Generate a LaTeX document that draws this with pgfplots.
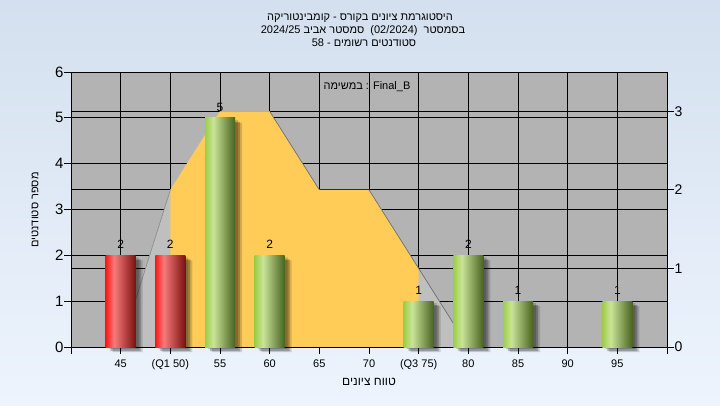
\documentclass[border=0pt]{standalone}
\usepackage{fontspec}
\setmainfont{Liberation Sans}
\newfontfamily\hebfont[Script=Hebrew]{Liberation Sans}
\TeXXeTstate=1
\usepackage{pgfplots}
\pgfplotsset{compat=1.18}
\definecolor{plotgray}{RGB}{179,179,179}
\definecolor{areagray}{RGB}{191,191,191}
\definecolor{areayellow}{RGB}{255,204,88}
\definecolor{edgegray}{RGB}{110,110,110}
\definecolor{bgtop}{RGB}{212,224,239}
\definecolor{bgbot}{RGB}{237,244,253}
\definecolor{rA}{RGB}{255,24,24}
\definecolor{rB}{RGB}{247,122,122}
\definecolor{rC}{RGB}{122,16,16}
\definecolor{gA}{RGB}{156,206,70}
\definecolor{gB}{RGB}{202,228,152}
\definecolor{gC}{RGB}{72,98,32}
\pgfdeclarehorizontalshading{redshade}{100bp}{color(0bp)=(rA); color(25bp)=(rA); color(39bp)=(rB); color(75bp)=(rC); color(100bp)=(rC)}
\pgfdeclarehorizontalshading{greenshade}{100bp}{color(0bp)=(gA); color(25bp)=(gA); color(39bp)=(gB); color(75bp)=(gC); color(100bp)=(gC)}
\pgfplotsset{
  base/.style={at={(71pt,58pt)}, anchor=south west, scale only axis,
    width=596pt, height=275pt, xmin=40, xmax=100,
    axis line style={-, black, line width=0.9pt},
    tick align=outside, major tick length=7pt,
    tick style={black, line width=0.9pt},
    major grid style={black, line width=0.9pt},
    /pgf/number format/assume math mode=true},
  barlab/.style={nodes near coords,
    every node near coord/.append style={text=black, anchor=south, inner sep=0pt,
      yshift=6.5pt, font=\fontsize{12}{12}\selectfont}},
  redbar/.style={ybar, bar width=30pt, bar shift=0pt, draw=none, shade, shading=redshade, barlab},
  greenbar/.style={ybar, bar width=30pt, bar shift=0pt, draw=none, shade, shading=greenshade, barlab},
  shadowbar/.style={ybar, bar width=30pt, draw=none, fill=black},
}
\begin{document}
\begin{tikzpicture}
\shade[top color=bgtop, bottom color=bgbot] (0,0) rectangle (720pt,405pt);
% left axis, grid and background
\begin{axis}[base, ymin=0, ymax=6,
  axis background/.style={fill=plotgray},
  xtick={40,45,...,100},
  xticklabels={,45,(Q1 50),55,60,65,70,(Q3 75),80,85,90,95,},
  ytick={0,...,6},
  grid=major,
  axis x line*=bottom, axis y line*=left,
  xticklabel style={font=\fontsize{11}{11}\selectfont, yshift=-2pt},
  yticklabel style={font=\fontsize{15}{15}\selectfont, xshift=3pt},
]
\end{axis}
% right axis with the polygon
\begin{axis}[base, ymin=0, ymax=3.5,
  axis x line=none, axis y line*=right,
  ytick={0,1,2,3}, ymajorgrids,
  yticklabel style={font=\fontsize{14}{14}\selectfont, xshift=-3pt},
]
\addplot[fill=areagray, draw=none] coordinates {(45,0) (50,2) (55,3) (60,3) (65,2) (70,2) (75,1) (80,0)} \closedcycle;
\addplot[fill=areayellow, draw=none] coordinates {(50,2) (55,3) (60,3) (65,2) (70,2) (75,1)} \closedcycle;
\addplot[edgegray, line width=0.7pt] coordinates {(60,3) (65,2)};
\addplot[edgegray, line width=0.7pt] coordinates {(70,2) (75,1) (80,0)};
\addplot[edgegray!60!areagray, line width=0.7pt] coordinates {(45,0) (50,2)};
\end{axis}
% bars
\begin{axis}[base, ymin=0, ymax=6, clip=false,
  axis x line*=bottom, axis y line=none, xtick=\empty, ytick=\empty]
\addplot[shadowbar, opacity=0.18, bar shift=3pt, yshift=-2pt] coordinates {(45,2) (50,2) (55,5) (60,2) (75,1) (80,2) (85,1) (95,1)};
\addplot[shadowbar, opacity=0.25, bar shift=5pt, yshift=-4pt] coordinates {(45,2) (50,2) (55,5) (60,2) (75,1) (80,2) (85,1) (95,1)};
\addplot[shadowbar, opacity=0.15, bar shift=7pt, yshift=-5pt] coordinates {(45,2) (50,2) (55,5) (60,2) (75,1) (80,2) (85,1) (95,1)};
\addplot[redbar] coordinates {(45,2)};
\addplot[redbar] coordinates {(50,2)};
\addplot[greenbar] coordinates {(55,5)};
\addplot[greenbar] coordinates {(60,2)};
\addplot[greenbar] coordinates {(75,1)};
\addplot[greenbar] coordinates {(80,2)};
\addplot[greenbar] coordinates {(85,1)};
\addplot[greenbar] coordinates {(95,1)};
\end{axis}
% titles and labels
\begin{scope}[every node/.style={font=\hebfont\fontsize{11}{11}\selectfont, anchor=base, inner sep=0pt}]
\node at (360pt,384pt) {\beginR היסטוגרמת ציונים בקורס - קומבינטוריקה\endR};
\node at (363pt,371pt) {\beginR בסמסטר\ \ (02/2024)\ \ סמסטר אביב 2024/25\endR};
\node at (364pt,358.5pt) {\beginR סטודנטים רשומים - 58\endR};
\end{scope}
\node[font=\hebfont\fontsize{11}{11}\selectfont] at (367pt,318pt) {במשימה : Final\_B};
\node[font=\hebfont\fontsize{12}{12}\selectfont] at (369pt,23pt) {\beginR טווח ציונים\endR};
\node[rotate=90, font=\hebfont\fontsize{11}{11}\selectfont] at (35pt,195pt) {\beginR מספר סטודנטים\endR};
\end{tikzpicture}
\end{document}
